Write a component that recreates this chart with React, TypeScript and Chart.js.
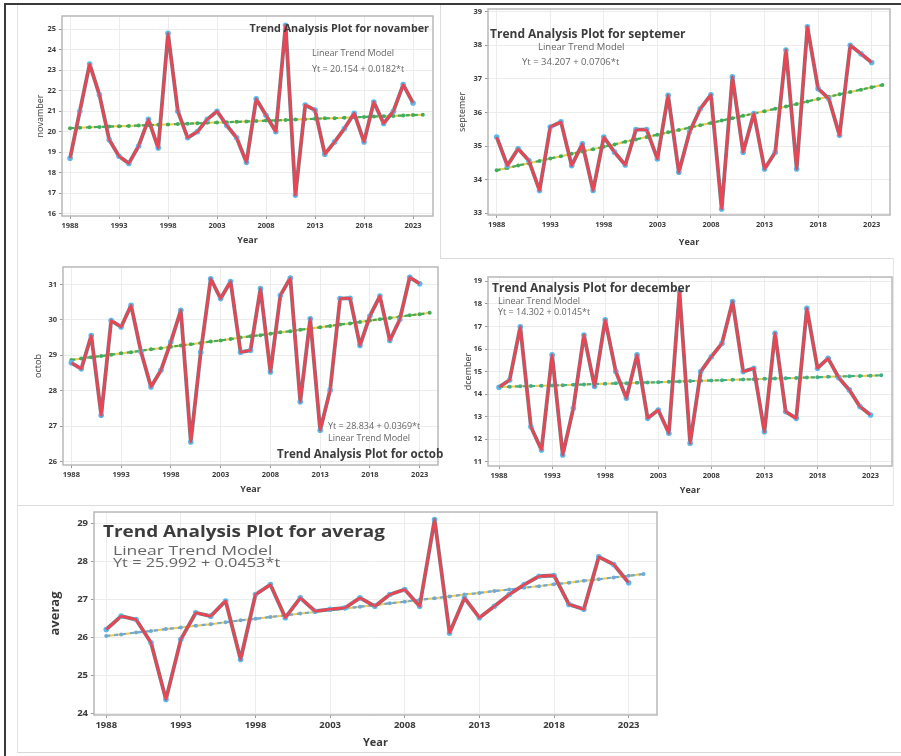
import React, { useEffect, useRef } from "react";
import { Chart, registerables } from "chart.js";

Chart.register(...registerables);

// ---------- DATA ----------
const years = [
  1988, 1989, 1990, 1991, 1992, 1993, 1994, 1995, 1996, 1997, 1998, 1999,
  2000, 2001, 2002, 2003, 2004, 2005, 2006, 2007, 2008, 2009, 2010, 2011,
  2012, 2013, 2014, 2015, 2016, 2017, 2018, 2019, 2020, 2021, 2022, 2023, 2024,
];
const xTickYears = [1988, 1993, 1998, 2003, 2008, 2013, 2018, 2023];

const november = [
  18.7, 21.0, 23.3, 21.8, 19.6, 18.8, 18.45, 19.3, 20.6, 19.2, 24.8, 21.0,
  19.7, 20.0, 20.6, 21.0, 20.3, 19.7, 18.5, 21.6, 20.8, 20.0, 25.2, 16.9,
  21.3, 21.05, 18.9, 19.5, 20.15, 20.9, 19.5, 21.45, 20.4, 21.0, 22.3, 21.4,
];
const novemberTrend = [
  20.17, 20.19, 20.21, 20.23, 20.25, 20.26, 20.28, 20.3, 20.32, 20.34, 20.35,
  20.37, 20.39, 20.41, 20.43, 20.45, 20.46, 20.48, 20.5, 20.52, 20.54, 20.55,
  20.57, 20.59, 20.61, 20.63, 20.65, 20.66, 20.68, 20.7, 20.72, 20.74, 20.75,
  20.77, 20.79, 20.81, 20.83,
];
const novemberTicks = [16, 17, 18, 19, 20, 21, 22, 23, 24, 25];

const septemer = [
  35.27, 34.42, 34.92, 34.57, 33.68, 35.57, 35.72, 34.42, 35.07, 33.68, 35.27,
  34.82, 34.44, 35.49, 35.49, 34.62, 36.51, 34.22, 35.42, 36.11, 36.53, 33.13,
  37.06, 34.82, 35.97, 34.32, 34.82, 37.86, 34.32, 38.55, 36.71, 36.41, 35.32,
  38.0, 37.75, 37.49,
];
const septemerTrend = [
  34.28, 34.35, 34.42, 34.49, 34.56, 34.63, 34.7, 34.77, 34.84, 34.91, 34.98,
  35.05, 35.13, 35.2, 35.27, 35.34, 35.41, 35.48, 35.55, 35.62, 35.69, 35.76,
  35.83, 35.9, 35.97, 36.04, 36.11, 36.18, 36.25, 36.33, 36.4, 36.47, 36.54,
  36.61, 36.68, 36.75, 36.82,
];
const septemerTicks = [33, 34, 35, 36, 37, 38, 39];

const octob = [
  28.79, 28.62, 29.56, 27.31, 29.98, 29.8, 30.41, 29.1, 28.11, 28.58, 29.38,
  30.27, 26.56, 29.09, 31.16, 30.6, 31.08, 29.09, 29.14, 30.88, 28.53, 30.69,
  31.18, 27.69, 30.03, 26.89, 28.02, 30.6, 30.61, 29.28, 30.11, 30.67, 29.42,
  30.01, 31.2, 31.02,
];
const octobTrend = [
  28.87, 28.91, 28.95, 28.98, 29.02, 29.06, 29.09, 29.13, 29.17, 29.2, 29.24,
  29.28, 29.31, 29.35, 29.39, 29.42, 29.46, 29.5, 29.54, 29.57, 29.61, 29.65,
  29.68, 29.72, 29.76, 29.79, 29.83, 29.87, 29.9, 29.94, 29.98, 30.02, 30.05,
  30.09, 30.13, 30.16, 30.2,
];
const octobTicks = [26, 27, 28, 29, 30, 31];

const dcember = [
  14.31, 14.63, 16.99, 12.56, 11.53, 15.74, 11.31, 13.38, 16.62, 14.34, 17.29,
  15.0, 13.82, 15.74, 12.93, 13.3, 12.27, 18.54, 11.83, 15.0, 15.66, 16.25,
  18.1, 15.0, 15.15, 12.34, 16.7, 13.23, 12.93, 17.8, 15.15, 15.59, 14.73,
  14.19, 13.45, 13.08,
];
const dcemberTrend = [
  14.32, 14.33, 14.35, 14.36, 14.37, 14.39, 14.4, 14.42, 14.43, 14.45, 14.46,
  14.48, 14.49, 14.51, 14.52, 14.53, 14.55, 14.56, 14.58, 14.59, 14.61, 14.62,
  14.64, 14.65, 14.66, 14.68, 14.69, 14.71, 14.72, 14.74, 14.75, 14.77, 14.78,
  14.8, 14.81, 14.82, 14.84,
];
const dcemberTicks = [11, 12, 13, 14, 15, 16, 17, 18, 19];

const averag = [
  26.21, 26.56, 26.47, 25.86, 24.37, 25.95, 26.65, 26.56, 26.96, 25.42, 27.13,
  27.39, 26.52, 27.04, 26.69, 26.74, 26.78, 27.04, 26.82, 27.13, 27.26, 26.82,
  29.1, 26.12, 27.04, 26.52, 26.82, 27.13, 27.39, 27.61, 27.63, 26.87, 26.74,
  28.12, 27.92, 27.44,
];
const averagTrend = [
  26.04, 26.08, 26.13, 26.17, 26.22, 26.26, 26.31, 26.35, 26.4, 26.45, 26.49,
  26.54, 26.58, 26.63, 26.67, 26.72, 26.76, 26.81, 26.85, 26.9, 26.94, 26.99,
  27.03, 27.08, 27.13, 27.17, 27.22, 27.26, 27.31, 27.35, 27.4, 27.44, 27.49,
  27.53, 27.58, 27.62, 27.67,
];
const averagTicks = [24, 25, 26, 27, 28, 29];

// ---------- LAYOUT ----------
const FONT = "'Open Sans', 'DejaVu Sans', sans-serif";

type Label = {
  text: string;
  x: number;
  y: number;
  size: number;
  bold?: boolean;
  anchor?: "left" | "right";
  sx?: number;
};

type Panel = {
  key: string;
  values: number[];
  trend: number[];
  yTicks: number[];
  yTitle: string;
  frame: { l: number; t: number; r: number; b: number };
  padT: number;
  padR: number;
  yTitleX: number;
  xTitleY: number;
  yTitleSize: number;
  xTitleSize: number;
  tickSize: number;
  xMin: number;
  xMax: number;
  yMin: number;
  yMax: number;
  dashColor: string;
  labels: Label[];
};

const panels: Panel[] = [
  {
    key: "nov",
    values: november,
    trend: novemberTrend,
    yTicks: novemberTicks,
    yTitle: "novamber",
    frame: { l: 62, t: 16, r: 433, b: 216 },
    padT: 9,
    padR: 5,
    yTitleX: 40,
    xTitleY: 241,
    yTitleSize: 9,
    xTitleSize: 9,
    tickSize: 7.5,
    xMin: 1987.18,
    xMax: 2025.04,
    yMin: 15.88,
    yMax: 25.65,
    dashColor: "#3fae5c",
    labels: [
      { text: "Trend Analysis Plot for novamber", x: 429, y: 28, size: 10.8, bold: true, anchor: "right" },
      { text: "Linear Trend Model", x: 312, y: 52, size: 9 },
      { text: "Yt = 20.154 + 0.0182*t", x: 312, y: 68, size: 9 },
    ],
  },
  {
    key: "sep",
    values: septemer,
    trend: septemerTrend,
    yTicks: septemerTicks,
    yTitle: "septemer",
    frame: { l: 488, t: 9, r: 890, b: 215 },
    padT: 9,
    padR: 5,
    yTitleX: 462,
    xTitleY: 243,
    yTitleSize: 9,
    xTitleSize: 9,
    tickSize: 7.5,
    xMin: 1987.19,
    xMax: 2024.71,
    yMin: 32.95,
    yMax: 39.08,
    dashColor: "#3fae5c",
    labels: [
      { text: "Trend Analysis Plot for septemer", x: 490, y: 34, size: 12, bold: true },
      { text: "Linear Trend Model", x: 538, y: 47, size: 9.5 },
      { text: "Yt = 34.207 + 0.0706*t", x: 522, y: 62, size: 9.5 },
    ],
  },
  {
    key: "oct",
    values: octob,
    trend: octobTrend,
    yTicks: octobTicks,
    yTitle: "octob",
    frame: { l: 63, t: 267, r: 438, b: 465 },
    padT: 9,
    padR: 5,
    yTitleX: 38,
    xTitleY: 490,
    yTitleSize: 9,
    xTitleSize: 9,
    tickSize: 7.5,
    xMin: 1987.16,
    xMax: 2024.84,
    yMin: 25.91,
    yMax: 31.49,
    dashColor: "#3fae5c",
    labels: [
      { text: "Yt = 28.834 + 0.0369*t", x: 328, y: 425, size: 9 },
      { text: "Linear Trend Model", x: 328, y: 437, size: 9 },
      { text: "Trend Analysis Plot for octob", x: 277, y: 454, size: 11.6, bold: true },
    ],
  },
  {
    key: "dec",
    values: dcember,
    trend: dcemberTrend,
    yTicks: dcemberTicks,
    yTitle: "dcember",
    frame: { l: 488, t: 277, r: 892, b: 466 },
    padT: 9,
    padR: 4,
    yTitleX: 468,
    xTitleY: 491,
    yTitleSize: 9,
    xTitleSize: 9,
    tickSize: 7.5,
    xMin: 1986.96,
    xMax: 2025.02,
    yMin: 10.82,
    yMax: 19.19,
    dashColor: "#3fb08a",
    labels: [
      { text: "Trend Analysis Plot for december", x: 492, y: 288, size: 12, bold: true },
      { text: "Linear Trend Model", x: 498, y: 300, size: 9 },
      { text: "Yt = 14.302 + 0.0145*t", x: 498, y: 311, size: 9 },
    ],
  },
  {
    key: "avg",
    values: averag,
    trend: averagTrend,
    yTicks: averagTicks,
    yTitle: "averag",
    frame: { l: 94, t: 512, r: 657, b: 715 },
    padT: 10,
    padR: 6,
    yTitleX: 55,
    xTitleY: 742,
    yTitleSize: 13,
    xTitleSize: 11,
    tickSize: 9.5,
    xMin: 1987.18,
    xMax: 2024.9,
    yMin: 23.96,
    yMax: 29.3,
    dashColor: "#6fa9d6",
    labels: [
      { text: "Trend Analysis Plot for averag", x: 103, y: 532, size: 15.5, bold: true, sx: 1.22 },
      { text: "Linear Trend Model", x: 113, y: 551, size: 12.5, sx: 1.4 },
      { text: "Yt = 25.992 + 0.0453*t", x: 113, y: 563, size: 12, sx: 1.36 },
    ],
  },
];

const framePlugin = {
  id: "frameBox",
  beforeDatasetsDraw(chart: any) {
    const { ctx, chartArea } = chart;
    const { left, top, right, bottom } = chartArea;
    ctx.save();
    ctx.strokeStyle = "#b8b8b8";
    ctx.lineWidth = 1.5;
    ctx.strokeRect(left, top, right - left, bottom - top);
    ctx.restore();
  },
};

function TrendPanel({ p }: { p: Panel }) {
  const ref = useRef<HTMLCanvasElement | null>(null);
  const yLH = p.yTitleSize * 1.2;
  const xLH = p.xTitleSize * 1.2;
  const cLeft = Math.round(p.yTitleX - yLH / 2);
  const cTop = p.frame.t - p.padT;
  const cW = p.frame.r + p.padR - cLeft;
  const cH = Math.round(p.xTitleY + xLH / 2) - cTop;
  const yW = p.frame.l - cLeft;
  const xH = cTop + cH - p.frame.b;

  useEffect(() => {
    if (!ref.current) return;
    const pts = p.values.map((v, i) => ({ x: years[i], y: v }));
    const tpts = p.trend.map((v, i) => ({ x: years[i], y: v }));
    const tickFont = { family: FONT, size: p.tickSize, weight: "bold" as const };
    const grid = {
      color: "#ececec",
      lineWidth: 1,
      tickLength: 3,
      tickColor: "#999",
      drawTicks: true,
    };
    const chart = new Chart(ref.current, {
      type: "line",
      data: {
        datasets: [
          {
            data: pts,
            borderColor: "#ee4353",
            borderWidth: 2.5,
            borderJoinStyle: "round",
            pointRadius: 0,
            order: 0,
            tension: 0,
          },
          {
            data: pts,
            borderColor: "#77777f",
            borderWidth: 3.8,
            borderJoinStyle: "round",
            pointRadius: 2.8,
            pointBackgroundColor: "#58b8ea",
            pointBorderWidth: 0,
            order: 1,
            tension: 0,
          },
          {
            data: tpts,
            borderColor: p.dashColor,
            borderWidth: 2.2,
            borderDash: [4, 4],
            pointRadius: 2,
            pointBackgroundColor: p.dashColor,
            pointBorderWidth: 0,
            order: 2,
          },
          { data: tpts, borderColor: "#f2c94c", borderWidth: 2, pointRadius: 0, order: 3 },
        ],
      },
      options: {
        responsive: false,
        animation: false,
        events: [],
        layout: { padding: { top: p.padT, right: p.padR, left: 0, bottom: 0 } },
        plugins: { legend: { display: false }, tooltip: { enabled: false } },
        scales: {
          x: {
            type: "linear",
            min: p.xMin,
            max: p.xMax,
            afterBuildTicks: (s: any) => {
              s.ticks = xTickYears.map((v) => ({ value: v }));
            },
            afterFit: (s: any) => {
              s.height = xH;
            },
            ticks: {
              callback: (v: any) => String(v),
              font: tickFont,
              color: "#3a3a3a",
              padding: 2,
              maxRotation: 0,
              autoSkip: false,
            },
            grid,
            border: { display: false },
            title: {
              display: true,
              text: "Year",
              font: { family: FONT, size: p.xTitleSize, weight: "bold" },
              color: "#3a3a3a",
              padding: 0,
            },
          },
          y: {
            type: "linear",
            min: p.yMin,
            max: p.yMax,
            afterBuildTicks: (s: any) => {
              s.ticks = p.yTicks.map((v) => ({ value: v }));
            },
            afterFit: (s: any) => {
              s.width = yW;
            },
            ticks: {
              callback: (v: any) => String(v),
              font: tickFont,
              color: "#3a3a3a",
              padding: 3,
            },
            grid,
            border: { display: false },
            title: {
              display: true,
              text: p.yTitle,
              font: { family: FONT, size: p.yTitleSize, weight: p.key === "avg" ? "bold" : "normal" },
              color: "#3a3a3a",
              padding: 0,
            },
          },
        },
      },
      plugins: [framePlugin],
    } as any);
    return () => chart.destroy();
  }, []);

  return (
    <>
      <canvas
        ref={ref}
        width={cW}
        height={cH}
        style={{ position: "absolute", left: cLeft, top: cTop, width: cW, height: cH }}
      />
      {p.labels.map((l, i) => (
        <div
          key={i}
          style={{
            position: "absolute",
            left: l.x,
            top: l.y,
            fontFamily: FONT,
            fontSize: l.size,
            fontWeight: l.bold ? 700 : 400,
            color: l.bold ? "#3c3c3c" : "#666",
            whiteSpace: "nowrap",
            lineHeight: 1,
            transformOrigin: l.anchor === "right" ? "right center" : "left center",
            transform:
              (l.anchor === "right" ? "translate(-100%, -50%)" : "translate(0, -50%)") +
              (l.sx ? ` scaleX(${l.sx})` : ""),
          }}
        >
          {l.text}
        </div>
      ))}
    </>
  );
}

function Line({ x, y, w, h, c }: { x: number; y: number; w: number; h: number; c: string }) {
  return <div style={{ position: "absolute", left: x, top: y, width: w, height: h, background: c }} />;
}

export default function App() {
  return (
    <div
      style={{
        position: "fixed",
        left: 0,
        top: 0,
        width: 901,
        height: 756,
        background: "#fff",
        overflow: "hidden",
      }}
    >
      {/* panel separators */}
      <Line x={17} y={5} w={1} h={748} c="#e2e2e2" />
      <Line x={440} y={5} w={1} h={253} c="#dcdcdc" />
      <Line x={440} y={258} w={453} h={1} c="#dcdcdc" />
      <Line x={17} y={505} w={876} h={1} c="#dcdcdc" />
      <Line x={893} y={258} w={1} h={248} c="#e6e6e6" />
      <Line x={17} y={752} w={884} h={1} c="#d8d8d8" />
      {panels.map((p) => (
        <TrendPanel key={p.key} p={p} />
      ))}
      {/* outer border */}
      <Line x={4} y={3} w={897} h={2} c="#3a3a3a" />
      <Line x={4} y={3} w={2} h={753} c="#3a3a3a" />
    </div>
  );
}
